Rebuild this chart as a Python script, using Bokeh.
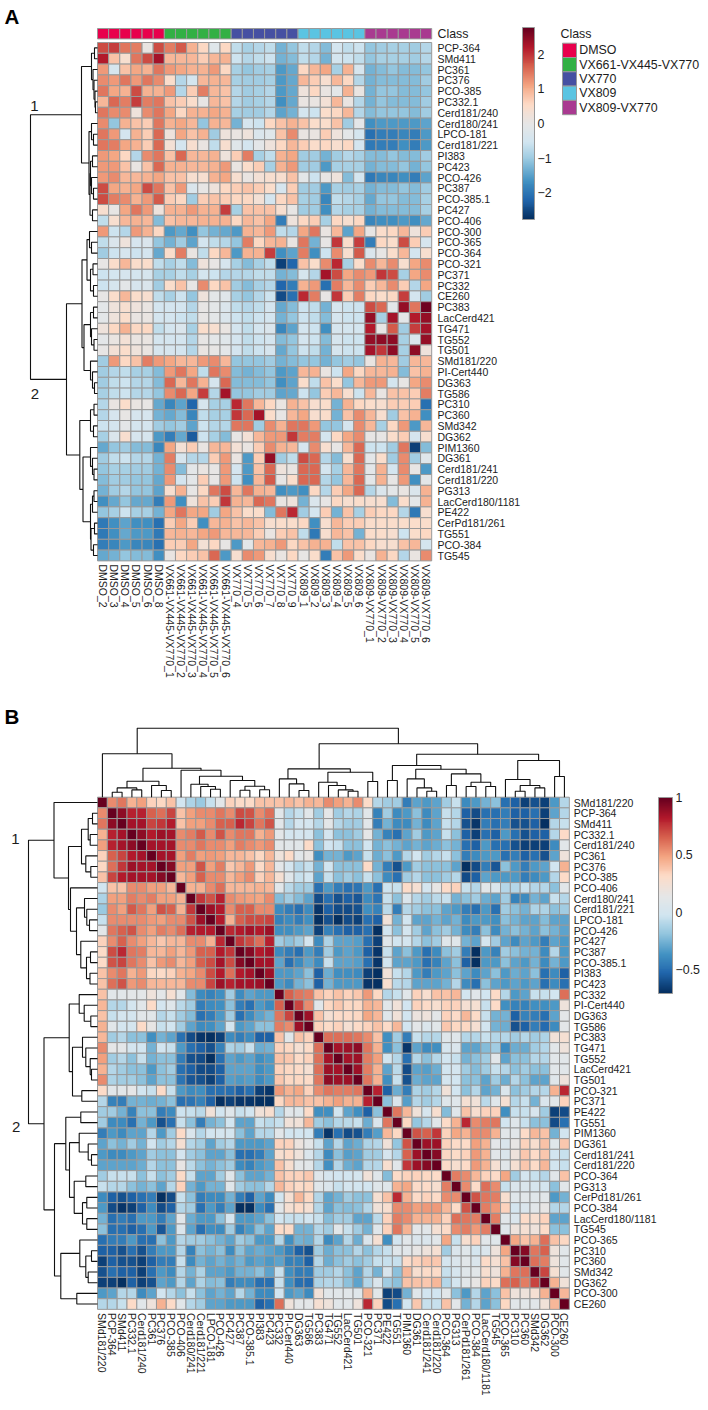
from bokeh.plotting import figure
from bokeh.models import Range1d, ColumnDataSource, LinearColorMapper, ColorBar, FixedTicker
from bokeh.core.properties import value
from bokeh.embed import file_html
from bokeh.resources import INLINE

# ---------------- DATA ----------------
sample_labels = ["DMSO_2","DMSO_3","DMSO_4","DMSO_5","DMSO_6","DMSO_8",
 "VX661-VX445-VX770_1","VX661-VX445-VX770_2","VX661-VX445-VX770_3","VX661-VX445-VX770_4","VX661-VX445-VX770_5","VX661-VX445-VX770_6",
 "VX770_4","VX770_5","VX770_6","VX770_7","VX770_8","VX770_9",
 "VX809_1","VX809_2","VX809_3","VX809_4","VX809_5","VX809_6",
 "VX809-VX770_1","VX809-VX770_2","VX809-VX770_3","VX809-VX770_4","VX809-VX770_5","VX809-VX770_6"]
class_names = ["DMSO","VX661-VX445-VX770","VX770","VX809","VX809-VX770"]
class_colors = ["#e8004c","#32b044","#4650a2","#5ac4e2","#a93a90"]
sample_class = [0]*6+[1]*6+[2]*6+[3]*6+[4]*6

lipids_a = ["PCP-364","SMd411","PC361","PC376","PCO-385","PC332.1","Cerd181/240","Cerd180/241","LPCO-181","Cerd181/221","PI383","PC423","PCO-426","PC387","PCO-385.1","PC427","PCO-406","PCO-300","PCO-365","PCO-364","PCO-321","PC371","PC332","CE260","PC383","LacCerd421","TG471","TG552","TG501","SMd181/220","PI-Cert440","DG363","TG586","PC310","PC360","SMd342","DG362","PIM1360","DG361","Cerd181/241","Cerd181/220","PG313","LacCerd180/1181","PE422","CerPd181/261","TG551","PCO-384","TG545"]
lipids_b = ["SMd181/220","PCP-364","SMd411","PC332.1","Cerd181/240","PC361","PC376","PCO-385","PCO-406","Cerd180/241","Cerd181/221","LPCO-181","PCO-426","PC427","PC387","PCO-385.1","PI383","PC423","PC332","PI-Cert440","DG363","TG586","PC383","TG471","TG552","LacCerd421","TG501","PCO-321","PC371","PE422","TG551","PIM1360","DG361","Cerd181/241","Cerd181/220","PCO-364","PG313","CerPd181/261","PCO-384","LacCerd180/1181","TG545","PCO-365","PC310","PC360","SMd342","DG362","PCO-300","CE260"]

expression = [
[1.8,1.9,1.5,1.4,.1,1.8, 1.4,1.7,1.0,.6,-.2,.6, -.7,-.9,-.8,-.7,-1.3,-1.1, -.7,-.8,-1.2,-.5,-.7,-.6, -1.1,-1.0,-.9,-.9,-1.0,-.8],
[2.2,.8,.4,1.5,1.8,2.3, .9,.9,.9,.7,.9,1.0, -.6,-.8,-.7,-.6,-1.3,-1.2, -.7,-.8,-1.3,-.5,-.6,-.7, -1.1,-.9,-.9,-.9,-1.0,-.8],
[1.2,-.4,.8,1.1,1.0,1.5, 1.2,1.1,1.0,1.0,1.2,.6, -.9,-1.1,-1.0,-.9,-1.6,-1.4, .6,.9,1.1,-.9,1.0,-.4, -1.3,-1.2,-1.1,-1.2,-1.2,-1.1],
[1.3,1.2,1.5,1.2,1.5,1.3, .5,-.8,-.5,.9,1.0,.9, -.9,-1.0,-1.0,-.9,-1.6,-1.4, .9,.7,.4,.9,.6,-.8, -1.3,-1.2,-1.2,-1.2,-1.2,-1.0],
[1.5,1.1,1.0,1.8,1.0,1.0, 1.2,-.8,.7,1.4,.9,.8, -.8,-1.0,-.9,-.8,-1.6,-1.4, .2,.6,.1,-.1,1.0,.1, -1.3,-1.1,-1.1,-1.2,-1.2,-1.1],
[.9,1.6,1.4,1.9,1.4,1.5, .8,.7,.5,0,.9,.8, -.8,-1.0,-.9,-.8,-1.7,-1.4, .1,.1,.3,.9,.1,-.8, -1.3,-1.1,-1.2,-1.2,-1.2,-1.0],
[1.5,1.3,1.3,.2,1.3,1.5, 1.1,.6,1.0,1.0,1.1,1.0, -.9,-1.0,-1.0,-.8,-1.5,-1.3, -.5,-.6,.5,.6,.9,-.8, -1.2,-1.1,-1.1,-1.1,-1.2,-1.0],
[1.3,-1.1,1.0,.8,.7,1.5, 1.0,1.1,.9,-1.1,1.0,.9, -1.3,-.4,-.6,.6,.8,1.0, .8,.5,.5,.8,-1.0,-.1, -1.7,-1.6,-1.6,-1.6,-1.6,-1.5],
[1.5,1.2,-.5,1.0,.7,1.6, .2,1.1,.8,1.0,-1.0,.2, .1,.2,-.3,-.2,.8,1.3, .1,.1,.7,.2,-.1,-.5, -2.1,-1.9,-1.9,-1.8,-1.9,-1.6],
[1.5,1.4,1.1,1.0,.7,1.6, .3,-.5,.4,.1,-.7,.4, -.2,-.5,-.1,.2,.6,.9, .7,.5,.6,.4,.6,-.5, -2.0,-1.9,-1.9,-1.7,-1.9,-1.6],
[1.2,1.1,.6,-.8,1.3,1.5, .8,1.6,.9,.9,1.0,.2, .7,1.4,-.9,-.7,1.0,1.1, -1.0,-1.0,-1.3,-1.0,-.8,-.9, -1.2,-1.2,-1.1,-1.2,-1.2,-1.0],
[1.2,1.2,.8,.1,.8,1.6, 1.0,1.0,.9,.9,1.0,1.2, .1,.5,.7,-.9,1.0,1.2, -1.0,-1.0,-1.6,-.9,-.9,-.9, -1.3,-1.2,-1.2,-1.1,-1.3,-1.1],
[1.2,1.3,.9,.9,1.0,1.1, .8,.8,.4,.4,1.0,1.1, .4,.1,.3,.4,.4,.8, -.1,-.6,0,.2,-1.2,-.5, -2.0,-1.8,-1.8,-1.7,-1.9,-1.5],
[1.8,1.1,1.0,1.1,1.8,1.5, .8,1.2,-.3,0,.2,.6, .7,.8,.7,.5,-.4,.7, -1.0,-1.0,-1.6,-.9,-1.0,-.9, -1.3,-1.2,-1.2,-1.1,-1.2,-1.0],
[1.8,1.4,1.3,1.0,1.2,1.7, .7,.6,-1.0,.7,.8,.7, .6,.6,.3,-.5,.6,.8, -.9,-1.0,-1.8,-.7,-.8,-.9, -1.4,-1.1,-1.1,-1.2,-1.2,-.9],
[.4,0,1.1,1.5,1.2,.2, 1.0,1.0,1.2,1.0,1.0,1.9, -.9,.8,.8,.8,.4,0, -1.0,-1.0,-1.7,-.8,-.9,-.9, -1.3,-1.2,-1.2,-1.2,-1.2,-.9],
[-.7,.4,.9,1.0,.9,-1.2, .8,.9,.9,1.0,1.0,1.0, .6,.9,.8,1.1,-1.9,.2, .6,.7,-.9,.6,.4,.6, -1.8,-1.7,-1.7,-1.6,-1.7,-1.4],
[1.2,-.6,-.8,1.2,1.0,.6, -1.6,-1.4,-1.7,-1.1,-1.3,-1.4, -1.6,1.0,.9,1.2,-.7,-.8, 1.1,1.5,.1,.9,-1.5,1.1, 0,.5,.6,.9,.2,.7],
[-.7,-.3,.2,-.4,-.3,-1.1, -1.3,-1.0,-1.5,-.5,-.7,-.8, -1.1,1.4,.6,.9,1.0,.1, 1.5,-1.3,0,2.0,.5,1.9, -1.9,.6,.5,1.8,.7,-.4],
[-1.0,-.6,-.4,-.6,-.5,-1.4, .5,1.4,.1,-.7,.6,.9, -1.6,1.0,1.0,1.9,-1.7,-1.5, 1.4,-1.7,-.6,1.3,.4,1.7, -.3,0,.5,.9,-.5,.4],
[0,.5,.9,.5,.5,-.7, -.9,-.7,-1.2,.2,0,-.4, -.9,-1.2,-.9,-.7,-2.6,-2.2, .8,.5,1.3,2.1,-.9,.5, 1.3,.9,1.3,.4,1.1,1.3],
[-.6,-.5,-.4,-.5,-.4,-.9, -.9,-.7,-.9,-.5,-.6,-.8, -.8,-.8,-.7,-.7,-1.3,-1.2, -.4,-.8,2.3,1.8,1.1,1.3, 1.2,2.0,1.8,-.9,1.1,1.3],
[-.6,-.4,-.1,-.4,-.3,-1.0, .5,.8,0,1.3,.6,.8, -1.0,-1.2,-.9,-.8,-2.2,-1.9, 1.0,1.2,-2.1,1.4,.9,1.3, .7,.9,1.3,.7,-.8,1.1],
[0,.5,.9,.5,.4,-.7, -.9,-.6,-1.1,.2,-.1,-.2, -.9,-1.1,-.8,-.6,-2.5,-2.1, 2.1,1.4,0,2.0,.7,1.4, .6,.5,.6,1.9,-.5,-1.0],
[-.1,.2,.4,.2,.1,-.5, -.5,-.5,-.8,.0,-.1,-.3, -.7,-.8,-.7,-.5,-1.4,-1.2, -.6,-.7,-1.3,-.4,-.6,-.6, 1.8,1.6,-.1,2.4,1.5,2.7],
[-.1,.2,.5,.1,.1,-.5, -.5,-.6,-.7,0,-.1,-.3, -.6,-.7,-.6,-.5,-1.3,-1.1, -.6,-.7,-1.2,-.4,-.6,-.6, 2.4,-.9,2.3,-.1,2.2,2.4],
[.2,.6,1.0,.6,.6,-.7, -.5,-.3,-.9,.5,.4,.1, -.5,-.7,-.5,-.3,-1.8,-1.5, -.5,-.6,-1.7,-.4,-.5,-.5, 2.2,0,1.7,-1.0,1.9,2.3],
[-.1,.1,.3,.1,.1,-.5, -.5,-.5,-.8,0,-.1,-.2, -.5,-.7,-.6,-.5,-1.2,-1.1, -.5,-.6,-1.2,-.4,-.6,-.6, 2.4,2.5,2.5,-.9,-.3,2.4],
[0,.3,.5,.2,.1,-.4, -.4,-.5,-.8,.1,0,-.1, -.5,-.7,-.6,-.4,-1.4,-1.1, -.6,-.7,-1.3,-.4,-.6,-.6, 2.3,2.0,2.5,-.9,2.5,.2],
[-1.0,1.2,.6,.8,1.4,1.2, 1.1,.9,.9,1.2,1.3,.9, -1.1,-1.1,-1.1,-1.0,-1.3,-1.2, -1.1,-1.1,-1.3,-1.1,-1.0,-1.1, .1,1.0,.9,-1.0,.9,.9],
[-1.0,-.8,-.7,-.9,-.9,-1.2, 1.2,1.5,1.1,-.7,1.5,1.3, -1.2,-1.3,-1.2,-1.1,-1.6,-1.5, .9,1.0,.1,-.6,1.1,.6, .9,.9,1.0,-1.2,.8,1.0],
[-1.0,-.7,-.6,-.8,-.8,-1.2, 1.6,.9,1.5,1.0,-.4,1.6, -1.2,-1.2,-1.2,-1.1,-1.7,-1.5, .5,-.7,.8,.5,-1.1,.9, 1.2,1.2,-.5,0,1.1,1.3],
[-.9,-.7,-.6,-.8,-.8,-1.1, 1.3,1.6,1.1,1.9,-.8,2.3, -1.1,-1.1,-1.0,-1.0,-1.5,-1.4, -.6,-1.1,.7,.9,.4,-.6, .9,.1,.8,.8,.7,1.4],
[-.8,.1,.5,.1,0,-1.4, -1.8,-1.5,-2.2,-.4,-.9,-.9, 2.1,1.5,.9,.6,.1,1.0, .8,.4,.5,-1.3,1.0,.6, .5,.4,.7,.7,.7,-2.1],
[-.8,-.4,0,-.4,-.4,-1.3, -1.4,-1.2,-1.8,-.7,-.9,-.9, 2.0,1.6,2.3,.5,0,.9, 1.1,.4,.5,-1.3,.8,1.3, .9,.4,-1.0,.8,1.0,-1.7],
[-.6,-.5,-.1,-.5,-.5,-1.0, -1.1,-1.0,-1.5,-.6,-.8,-.8, 1.5,1.5,-1.0,1.3,1.0,1.5, 1.5,1.2,-1.1,-1.1,-.4,1.3, .9,-.9,.6,1.2,-1.6,.9],
[-.9,-.3,.4,-.4,-.4,-1.6, -1.9,-1.4,-2.3,-.6,-.9,-1.2, 0,.3,.9,1.2,1.2,2.0, 1.4,1.4,-.5,.6,1.1,1.3, 0,0,.5,.7,-.4,.4],
[-1.4,-1.1,-1.0,-1.2,-1.2,-1.8, 1.1,.3,.7,.1,.9,.9, .3,.1,.7,1.3,1.0,.9, -.4,1.3,.4,0,.9,1.6, -.6,-.6,-1.0,1.5,-2.6,-1.2],
[-1.0,-.7,-.6,-.8,-.8,-1.3, 1.4,-.4,-.8,-.8,.7,1.2, .1,-1.6,.7,2.4,-1.0,-.7, 1.8,1.6,-.8,-1.2,.4,1.6, -.1,.5,-1.0,1.3,-1.0,-.2],
[-1.1,-.9,-.9,-1.0,-1.0,-1.3, 1.3,-1.2,-.1,.1,0,1.2, -.5,-1.6,.8,1.6,.2,.1, 1.6,1.6,-.5,-.9,.9,1.5, -.1,1.0,-.5,1.3,0,-1.6],
[-1.2,-1.0,-1.0,-1.1,-1.1,-1.4, 1.2,-.5,-.1,.7,0,1.2, -.6,-1.7,.9,1.7,0,.5, 1.6,1.6,-.8,-1.1,.9,1.6, -.1,1.0,0,1.2,-1.7,-.1],
[-1.3,-1.0,-.8,-1.1,-1.1,-1.5, .4,1.0,0,.6,1.5,1.8, .9,1.5,1.0,.9,-1.7,-1.6, -1.7,.6,-.8,.7,1.1,1.6, -.8,-.3,-.1,.1,-.3,1.0],
[-1.7,-1.4,-1.1,-1.4,-1.4,-1.9, 1.2,-1.7,.2,.8,.7,2.0, 1.0,.9,1.6,1.5,.1,.2, -1.3,-.3,0,.6,.4,.5, .4,.4,-1.2,.5,-.1,1.0],
[-1.1,-.9,-.6,-.9,-.9,-1.3, 1.1,1.5,1.1,1.1,-1.0,1.1, .8,.5,.5,-1.2,1.5,2.1, -1.0,-.5,.7,-1.3,.8,-.9, .7,.6,.6,-.8,-2.0,.4],
[-2.0,-1.7,-1.5,-1.7,-1.7,-2.1, .7,1.1,.7,-1.7,.9,1.0, .8,.9,.8,.4,.5,.5, .6,-1.7,.4,.9,.7,.7, .5,.5,.5,.5,.5,.5],
[-2.0,-1.7,-1.4,-1.6,-1.6,-2.0, .9,1.0,.9,1.1,1.2,.9, .9,.9,.7,.1,.7,.8, -.7,-2.0,.4,.9,.8,-1.3, .5,.5,.4,-.6,.5,.6],
[-1.9,-1.8,-1.6,-1.8,-1.8,-2.1, .7,.7,1.1,.3,.6,.0, -1.6,-.1,.9,1.0,1.2,.6, .8,1.0,1.0,-.7,.8,.8, .6,.4,.4,.8,.9,-.5],
[-1.4,-1.3,-1.1,-1.2,-1.2,-1.7, .1,.6,.7,.8,1.6,-1.6, .4,1.3,1.2,.4,.1,.6, 0,.5,-1.9,.8,1.2,.5, .1,1.0,.6,-.8,.1,1.3],
]

# correlation matrix, upper triangle without the diagonal (row i, columns i+1 ... 48)
correlation_upper = [
[.55,.6,.45,.5,.35,.33,.4, -.02,-.12,-.17,-.05,.12,.35,.3,.3,.4,.4, .4,.42,.4,.45,.42,.55,.5,.45,.55,.3,-.1, -.15,-.15,-.45,-.3,-.35,-.3,-.15,-.05,-.4,-.35,-.25,-.2,-.5,-.55,-.65,-.6,-.65,-.35,-.1],
[.9,.8,.8,.65,.62,.72, .4,.5,.55,.55,.6,.55,.7,.68,.55,.62, .1,-.1,-.05,.1,-.15,.13,-.15, -.1,-.12,.1,-.42, -.15,-.4,-.35,-.2,-.4,-.3,-.05,-.1,-.55,-.62,-.5,-.5,-.45,-.55,-.55,-.5,-.65,-.3,-.1],
[.85,.85,.72,.75,.82, .4,.5,.5,.55,.65,.65,.78,.72,.6,.68, .1,-.1,0,0,-.1,.12,-.1, -.15,-.15,.1,-.45,-.25,-.4,-.4,-.25,-.4,-.3,-.05,-.1,-.6,-.68,-.45,-.5,-.45,-.6,-.6,-.55,-.7,-.1,-.05],
[.9,.82,.88,.85, .55,.58,.66,.55,.68,.55,.6,.6,.45,.52, .12,0,0,0,-.2,0,-.2, -.2,-.15,.13,-.25,-.42,-.5,-.3,-.15,-.35,-.3,-.05,-.2,-.55,-.65,-.5,-.55,-.35,-.5,-.6,-.55,-.55,-.1,.3],
[.85,.85,.85, .55,.55,.6,.55,.55,.5,.58,.55,.52,.55, .12,.1,.1,.3,-.2,-.02,-.05, -.2,-.2,-.02,-.25,-.2,-.25,-.3,-.25,-.3,-.28,-.2,-.25,-.5,-.55,-.35,-.5,-.5,-.6,-.65,-.65,-.65,-.4,.1],
[.85,.85, .5,.58,.5,.52,.5,.42,.42,.4,.32,.42, .2,.3,.1,.15,-.38,-.25,-.25, -.35,-.3,-.05,-.28,-.2,-.35,-.1,-.02,-.15,-.1,-.05,-.2,-.45,-.4,-.35,-.35,-.5,-.45,-.55,-.5,-.6,-.3,.2],
[.92, .5,.5,.68,.5,.58,.38,.42,.52,.3,.42, .12,0,-.1,-.05,-.25,-.02,-.2, -.2,-.2,.3,-.25,-.45,-.6,-.35,-.15,-.2,-.2,-.2,-.3,-.7,-.62,-.45,-.58,-.2,-.35,-.45,-.35,-.3,-.02,.45],
[.42,.5,.65,.55,.55,.42,.5,.55,.35,.42, .25,.08,-.05,-.02,-.3,-.05,-.2, -.15,-.2,-.05,-.2,-.4,-.5,-.15,-.1,-.2,-.2,-.15,-.1,-.62,-.55,-.3,-.35,-.35,-.35,-.45,-.4,-.35,-.1,.3],
[.45,.45,.55,.62,.42,.42,.42,.45,.42, .1,-.08,-.15,-.15,-.5,-.35,-.45, -.5,-.48,-.35,-.5,-.03,-.05,.3,.25,0,.15,.3,.35,-.05,-.1,.1,.05,-.1,-.1,-.05,-.1,-.1,-.2,.1],
[.75,.68,.8,.55,.52,.5,.48,.55, -.22,-.15,-.22,-.3,-.62,-.5,-.6, -.55,-.58,-.4,-.48,-.05,-.2,.05,-.1,-.15,-.08,-.05,-.25,-.2,-.15,-.28,-.3,-.15,-.42,-.4,-.25,-.3,-.05,-.1],
[.88,.82,.55,.65,.65,.55,.55, -.4,-.45,-.5,-.4,-.68,-.55,-.62, -.62,-.6,-.38,-.42,-.08,-.45,-.1,-.15,-.2,-.2,-.3,-.35,-.45,-.5,-.35,-.5,-.15,-.2,-.25,-.12,-.12,-.2,-.15],
[.82,.45,.65,.7,.7,.72, -.42,-.4,-.45,-.38,-.7,-.6,-.7, -.62,-.65,-.5,-.55,.22,-.25,-.02,-.3,-.3,-.25,-.3,-.25,-.4,-.35,-.35,-.38,-.2,-.25,-.3,-.3,-.22,-.3,-.3],
[.78,.82,.85,.82,.88, -.38,-.38,-.35,-.3,-.65,-.42,-.5, -.55,-.55,-.5,-.7,-.02,-.2,0,-.15,-.3,-.2,-.15,-.25,-.4,-.45,-.2,-.4,-.25,-.2,-.25,-.3,-.2,-.25,-.3],
[.75,.7,.62,.8, -.15,-.2,-.15,0,-.4,-.12,-.3, -.3,-.32,-.5,-.65,.08,-.02,0,-.1,-.2,-.15,.08,.08,-.25,-.3,0,-.15,-.3,-.4,-.3,-.35,-.45,-.3,-.35],
[.92,.82,.85, -.4,-.45,-.5,-.35,-.45,-.15,-.35, -.3,-.35,-.55,-.68,-.05,-.3,-.2,-.35,-.5,-.4,-.2,-.15,-.45,-.7,-.35,-.42,-.15,-.2,-.25,-.25,-.4,-.1,-.35],
[.85,.85, -.3,-.5,-.4,-.3,-.4,-.05,-.3, -.3,-.32,-.5,-.68,-.02,-.3,-.3,-.35,-.5,-.42,-.3,-.2,-.55,-.7,-.35,-.35,-.2,-.3,-.35,-.25,-.4,-.25,-.35],
[.88, -.35,-.35,-.3,-.2,-.55,-.28,-.38, -.38,-.4,-.65,-.7,.22,-.05,-.1,-.35,-.45,-.35,-.3,-.2,-.3,-.4,-.3,-.2,-.35,-.28,-.3,-.2,-.5,-.4,-.55],
[-.35,-.4,-.25,-.2,-.55,-.25,-.35, -.35,-.35,-.68,-.71,.28,-.08,-.1,-.3,-.3,-.3,-.25,-.1,-.4,-.5,-.2,-.3,-.35,-.3,-.35,-.3,-.5,-.4,-.5],
[.65,.6,.58,.4,.35,.4, .35,.38,.52,.32,-.1,-.05,.1,.35,.28,.4,.4,.42,-.02,.1,-.02,.3,-.1,-.35,-.3,-.05,-.05,-.02,.62],
[.72,.55,.1,.33,.38, .33,.33,.45,.42,.1,.22,-.02,.35,.3,.28,.35,.35,.25,.25,-.05,.3,-.38,-.42,-.42,-.38,-.38,-.35,.2],
[.88,.4,.25,.3, .3,.32,.48,.42,.08,.22,-.02,.18,.2,.12,.35,.3,.42,.3,-.05,-.25,-.25,-.55,-.42,-.45,-.5,-.3,.12],
[.35,.3,.35, .25,.3,.35,.4,.3,.42,-.02,.12,.05,.1,.38,.33,.33,.25,-.02,-.25,-.28,-.6,-.55,-.45,-.52,-.4,.12],
[.62,.62,.62,.6,.55,.4, -.38,-.15,-.45,-.05,-.1,-.1,.08,.08, -.1,-.1,-.05,-.1, -.1,-.15,-.1,-.15,-.12,.22,.25],
[.85,.88,.9,.6,.45, -.38,-.2,-.68,-.3,-.4,-.38,.02,.05, -.3,-.3,-.22,-.15, -.4,-.28,-.28,-.15,-.1,.1,.2],
[.85,.88,.58,.5, -.02,-.1,-.5,-.1,-.2,-.1,-.02,-.05, -.25,-.2,-.15,.1, -.3,-.2,-.2,-.1,-.1,.1,.1],
[.88,.58,.45, -.3,-.08,-.62,-.3,-.32,-.28,-.02,0, -.15,-.22,-.15,-.05, -.1,-.2,-.15,-.2,-.2,.1,.1],
[.6,.45, -.38,-.05,-.6,-.28,-.3,-.3,0,-.02, -.2,-.2,-.3,-.15, -.28,-.1,-.2,-.3,-.3,.08,.2],
[.8, -.55,-.28,-.45,-.12,-.15,-.1,.22,-.02, -.2,-.1,-.3,-.25, .05,-.2,-.15,-.1,-.1,.45,.78],
[-.2,.05,-.32,-.1,-.15,-.1,.08,.08, .25,.22,-.08,.08, .25,-.1,-.05,-.25,.05,.1,.35],
[.6,.42,.22,.02,.28,-.22,.08,.4,.28,.35,.35, -.38,-.05,-.05,.03,-.15,-.65,-.62],
[.32,-.18,-.1,.1,.3,.45,.78,.55,.58,.6, -.02,.08,-.05,-.2,-.2,-.62,-.5],
[.68,.65,.75,.35,.48,.45,.55,.55,.45, .1,.1,.3,.42,.4,-.25,-.02],
[.88,.88,.35,.3,.3,.5,.45,.12, .05,.15,.35,.28,.4,.08,.38],
[.92,.32,.3,.35,.52,.45,.1, .05,.2,.38,.3,.38,-.02,-.05],
[.3,.28,.3,.52,.45,.25, .1,.25,.38,.3,.42,-.02,-.05],
[.58,.55,.42,.35,.3, .48,-.15,0,-.05,-.1,.1,.4],
[.55,.3,.62,.55, -.05,.05,.05,.02,0,-.2,.1],
[.68,.6,.58, .28,.08,.1,.08,.1,-.35,-.25],
[.58,.52, .35,0,.05,.1,.15,-.1,-.1],
[.58, .1,.05,.3,.28,.35,-.3,-.3],
[.08,.2,.25,.2,.3,-.2,-.2],
[.48,.4,.45,.62,.4,.32],
[.92,.6,.65,.2,.1],
[.62,.58,.2,.1],
[.72,.25,.1],
[.45,.22],
[.42],
[],
]

# dendrograms: [merge height, left, right]; 0 is the next leaf
tree_a = [67,
 [16,
  [6,[3,0,0],[4.5,0,[3.5,0,[2.5,0,[2,0,0]]]]],
  [8.5,[6,0,[4,0,0]],[7.5,[7,[5,0,0],[6,0,[4,0,0]]],[5,0,0]]]],
 [31,
  [15.5,
   [10.5,[8,0,[6,0,0]],[7,[4.5,0,0],[4,0,0]]],
   [13.5,[7,[4,0,0],[6,0,[3.5,0,0]]],[7,0,[5,0,[3,0,0]]]]],
  [17.7,
   [7,[3.5,0,0],[4,0,0]],
   [14.5,[7,0,[5,0,[3.5,0,0]]],[7,[5,[3.5,0,0],0],[6.5,[3,0,0],[4,0,0]]]]]]]

tree_b = [69,
 [43.5,0,
  [29,
   [16,[9.3,[5,0,0],[7.3,0,0]],[11.7,0,[6.7,0,0]]],
   [27,0,
    [21,[13,0,[10.7,0,[8,0,0]]],[16.7,0,[11,[7,0,0],[7.5,0,0]]]]]]],
 [53.5,
  [28.3,
   [18.3,0,[13.3,0,[6.7,0,0]]],
   [25,[15,0,[11.7,0,[7.3,0,[6,0,0]]]],[15.7,0,0]]],
  [43,
   [31.7,
    [16.7,0,0],
    [28,[18.3,0,[9.3,0,[6,0,0]]],[23.3,[11.7,0,0],[15,[10.7,0,0],[10.7,0,0]]]]],
   [36.7,
    [17.7,0,[11.7,[6,0,0],[9.3,0,0]]],
    [20.7,0,0]]]]]

bar_ticks_a = [-2,-1,0,1,2]
bar_ticks_b = [-0.5,0,0.5,1]

# ---------------- LOOK ----------------
FONT = "Liberation Sans"
GRID = "#999999"
INK = "#1c1c1c"
anchors = ["#053061","#2166ac","#4393c3","#92c5de","#d1e5f0","#e6e6e6","#fddbc7","#f4a582","#d6604d","#b2182b","#67001f"]

def ramp(n=100):
    rgb = [tuple(int(c[i:i+2],16) for i in (1,3,5)) for c in anchors]
    out = []
    for k in range(n):
        t = k/(n-1)*(len(rgb)-1)
        i = min(int(t), len(rgb)-2)
        f = t-i
        out.append("#%02x%02x%02x" % tuple(round(a+(b-a)*f) for a,b in zip(rgb[i],rgb[i+1])))
    return out
palette = ramp()

# the figure starts at the picture's own top-left corner
L, T, R, B = 0, 0, 700, 1402
p = figure(width=R-L, height=B-T, x_range=Range1d(L,R), y_range=Range1d(B,T),
           x_axis_type=None, y_axis_type=None, toolbar_location=None,
           output_backend="svg", min_border=0, outline_line_color=None)
p.grid.visible = False

def x_scale(name, origin, unit, sign=1):
    p.extra_x_ranges[name] = Range1d((L-origin)/unit*sign, (R-origin)/unit*sign)
def y_scale(name, origin, unit, sign=1):
    p.extra_y_ranges[name] = Range1d((B-origin)/unit*sign, (T-origin)/unit*sign)

def heatmap(rows, xn, yn, low, high):
    xs, ys, vs = [], [], []
    for r, row in enumerate(rows):
        for c, v in enumerate(row):
            xs.append(c+.5); ys.append(r+.5); vs.append(v)
    mapper = LinearColorMapper(palette=palette, low=low, high=high)
    p.rect("x","y",1,1,source=ColumnDataSource(dict(x=xs,y=ys,v=vs)),
           fill_color={"field":"v","transform":mapper}, line_color=GRID, line_width=1,
           x_range_name=xn, y_range_name=yn)
    return mapper

def layout_tree(node, counter, segs):
    if node == 0:
        counter[0] += 1
        return counter[0]-.5, 0
    h, a, b = node
    pa, ha = layout_tree(a, counter, segs)
    pb, hb = layout_tree(b, counter, segs)
    segs.append(([ha,h,h,hb],[pa,pa,pb,pb]))
    return (pa+pb)/2, h

def tree_lines(tree):
    segs, cnt = [], [0]
    layout_tree(tree, cnt, segs)
    assert cnt[0] == 48, cnt
    return [s[0] for s in segs], [s[1] for s in segs]

def texts(xs, ys, labels, size, xn="default", yn="default", align="left", angle=0.0, style="normal", color=INK):
    p.text(xs, ys, text=labels, text_font=value(FONT), text_font_size=size, text_color=color,
           text_align=align, text_baseline="middle", angle=angle, text_font_style=style,
           x_range_name=xn, y_range_name=yn)

def colorbar(mapper, ticks, x0, x1, y0, y1):
    over = {t: (("\u2212"+str(abs(t))) if t < 0 else ("%g" % t)) for t in ticks}
    cb = ColorBar(color_mapper=mapper, ticker=FixedTicker(ticks=ticks), major_label_overrides=over,
                  location=(round(x0-L), round(B-y1)), width=round(x1-x0), height=round(y1-y0), padding=0, margin=0,
                  major_tick_line_color=None, minor_tick_line_color=None, label_standoff=3,
                  bar_line_color="#999999", bar_line_width=1, background_fill_alpha=0, border_line_color=None,
                  major_label_text_font=FONT, major_label_text_font_size="12.4px", major_label_text_color=INK)
    p.add_layout(cb, "center")

# ---------- panel A ----------
AX, AY, ACW, ARH = 97, 42, 11.14, 10.8
x_scale("ac", AX, ACW); y_scale("ar", AY, ARH)
x_scale("ad", AX, 1, -1)
assert all(len(r)==30 for r in expression), [i for i,r in enumerate(expression) if len(r)!=30]
map_a = heatmap(expression, "ac", "ar", -2.78, 2.78)

y_scale("aa", 28, 10.4)
p.rect([i+.5 for i in range(30)], [.5]*30, 1, 1, fill_color=[class_colors[c] for c in sample_class],
       line_color=GRID, line_width=1, x_range_name="ac", y_range_name="aa")
texts([437],[33.5],["Class"],"12.4px")
xs, ys = tree_lines(tree_a)
p.multi_line(xs, ys, line_color="#111111", line_width=1.1, x_range_name="ad", y_range_name="ar")
texts([437]*48,[i+.5 for i in range(48)],lipids_a,"10.5px",yn="ar")
texts([i+.5 for i in range(30)],[564]*30,sample_labels,"10.5px",xn="ac",angle=-1.5707963)
colorbar(map_a, bar_ticks_a, 522, 534, 27, 219)

x_scale("lg", 562, 14); y_scale("lgy", 42.7, 14.3)
p.rect([.5]*5,[i+.5 for i in range(5)],1,1,fill_color=class_colors,line_color=GRID,line_width=1,
       x_range_name="lg",y_range_name="lgy")
texts([560],[33.5],["Class"],"12.4px")
texts([578.7]*5,[i+.5 for i in range(5)],class_names,"12.4px",yn="lgy")
texts([4],[15.5],["A"],"20.5px",style="bold",color="#000000")
texts([34,34.5],[105,393],["1","2"],"15px",align="center")

# ---------- panel B ----------
corr = [[1.0]*48 for _ in range(48)]
for i,row in enumerate(correlation_upper):
    assert len(row)==47-i, (i,len(row))
    for k,v in enumerate(row):
        corr[i][i+1+k] = v
        corr[i+1+k][i] = v
BX, BY, BCW, BRH = 97, 796.7, 9.83, 10.67
x_scale("bc", BX, BCW); y_scale("br", BY, BRH)
x_scale("bd", BX, 1, -1); y_scale("bt", BY, 1, -1)
map_b = heatmap(corr, "bc", "br", -0.71, 1.0)
xs, ys = tree_lines(tree_b)
p.multi_line(xs, ys, line_color="#111111", line_width=1.1, x_range_name="bd", y_range_name="br")
p.multi_line(ys, xs, line_color="#111111", line_width=1.1, x_range_name="bc", y_range_name="bt")
texts([573.3]*48,[i+.5 for i in range(48)],lipids_b,"10.5px",yn="br")
texts([i+.5 for i in range(48)],[1312.5]*48,lipids_b,"10.5px",xn="bc",angle=-1.5707963)
colorbar(map_b, bar_ticks_b, 658, 672, 796.7, 993)
texts([4],[716],["B"],"20.5px",style="bold",color="#000000")
texts([15,15.7],[838,1126],["1","2"],"15px",align="center")

open("out.html","w").write(file_html(p, INLINE))
